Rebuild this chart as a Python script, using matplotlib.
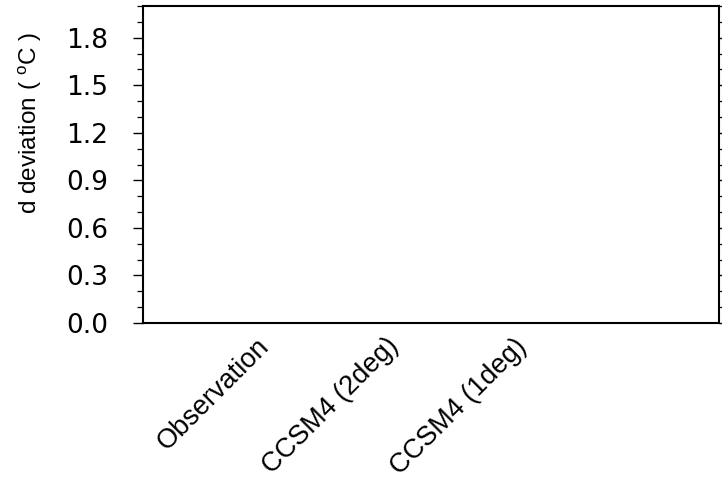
import numpy as np
import matplotlib
matplotlib.use("Agg")
import matplotlib.pyplot as plt
from matplotlib.ticker import MultipleLocator

# categories on the x axis (the panel itself holds no data)
models = ["Observation", "CCSM4 (2deg)", "CCSM4 (1deg)"]
xpos = [1, 2, 3]
yticks = [0.0, 0.3, 0.6, 0.9, 1.2, 1.5, 1.8]

plt.rcParams['font.family'] = ['Liberation Sans', 'DejaVu Sans']
plt.rcParams['mathtext.default'] = 'regular'

fig = plt.figure(figsize=(7.22, 4.80), dpi=100)
ax = fig.add_axes([143/722, 1 - 323/480, 576/722, 317/480])

ax.set_xlim(0.05, 4.52)
ax.set_ylim(0.0, 2.0)

for s in ax.spines.values():
    s.set_linewidth(1.5)

ax.set_yticks(yticks)
ax.set_yticklabels(["%.1f" % v for v in yticks], family='DejaVu Sans', fontsize=19)
ax.yaxis.set_minor_locator(MultipleLocator(0.1))
ax.tick_params(axis='y', which='major', direction='out', length=7, width=1.0,
               pad=18, right=True)
ax.tick_params(axis='y', which='minor', direction='out', length=4.5, width=0.9,
               right=True)

ax.set_xticks(xpos)
ax.set_xticklabels(models, rotation=45, ha='right', va='center',
                   rotation_mode='anchor', fontsize=19.5)
ax.tick_params(axis='x', length=0, pad=14)

ax.set_ylabel("d deviation ( $^{o}$C )", fontsize=17.5, va='center')
ax.yaxis.set_label_coords(-0.195, 0.631)

fig.savefig("out.png", dpi=100)
